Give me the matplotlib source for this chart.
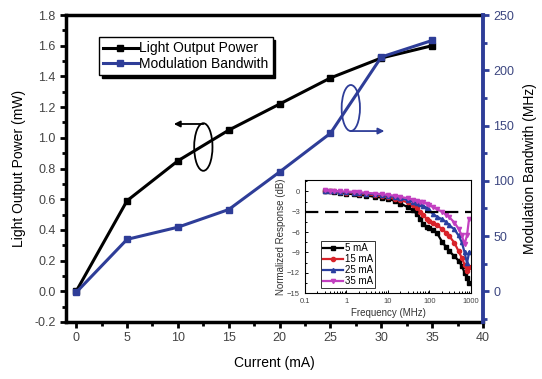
import matplotlib

matplotlib.use("Agg")

import matplotlib.pyplot as plt
from matplotlib.patches import Ellipse
from matplotlib.ticker import MultipleLocator

plt.rcParams["font.family"] = ["Liberation Sans", "DejaVu Sans"]

# main chart data
current = [0, 5, 10, 15, 20, 25, 30, 35]
light_power = [0.0, 0.59, 0.85, 1.05, 1.22, 1.39, 1.52, 1.60]
bandwidth = [-1, 47, 58, 74, 108, 143, 212, 227]

# inset data (frequency response)
freq = [0.3, 0.4, 0.5, 0.7, 1, 1.5, 2, 3, 5, 7, 10, 15, 20, 30, 40, 50, 60,
        70, 85, 100, 120, 150, 200, 250, 300, 400, 500, 600, 700, 800, 900]
resp_5ma = [0.1, 0.0, -0.05, -0.15, -0.3, -0.4, -0.5, -0.6, -0.8, -0.9, -1.1,
            -1.4, -1.8, -2.3, -2.8, -3.3, -4.0, -4.8, -5.3, -5.4, -5.7, -6.1,
            -7.4, -8.2, -8.8, -9.6, -10.2, -11.0, -12.0, -12.8, -13.5]
resp_15ma = [0.1, 0.05, 0.0, -0.05, -0.15, -0.25, -0.3, -0.4, -0.55, -0.7,
             -0.85, -1.1, -1.3, -1.6, -2.0, -2.4, -3.0, -3.5, -4.0, -4.3,
             -4.6, -5.0, -5.5, -6.1, -6.6, -7.6, -8.8, -9.8, -10.8, -11.8,
             -11.2]
resp_25ma = [0.1, 0.05, 0.0, -0.05, -0.1, -0.15, -0.2, -0.3, -0.4, -0.5,
             -0.65, -0.8, -1.0, -1.3, -1.5, -1.7, -1.9, -2.1, -2.4, -2.8,
             -3.3, -3.7, -4.1, -4.5, -5.0, -5.6, -6.5, -7.5, -9.0, -10.6,
             -9.0]
resp_35ma = [0.15, 0.1, 0.05, 0.0, 0.0, -0.05, -0.1, -0.2, -0.3, -0.4, -0.5,
             -0.65, -0.8, -1.0, -1.2, -1.35, -1.5, -1.6, -1.8, -2.0, -2.3,
             -2.6, -3.0, -3.4, -3.8, -4.6, -5.5, -6.5, -7.8, -6.5, -4.0]
inset_labels = ["5 mA", "15 mA", "25 mA", "35 mA"]

blue = "#2e3d98"
tick_gray = "#444444"

fig = plt.figure(figsize=(5.42, 3.79), dpi=100)
ax1 = fig.add_axes([0.1218, 0.1504, 0.7694, 0.81])
ax2 = ax1.twinx()

l1, = ax1.plot(current, light_power, color="black", marker="s", ms=4.5,
               lw=2.2, label="Light Output Power")
l2, = ax2.plot(current, bandwidth, color=blue, marker="s", ms=4.5,
               lw=2.2, label="Modulation Bandwith")

ax1.set_xlim(-1, 40)
ax1.set_ylim(-0.2, 1.8)
ax2.set_ylim(-0.2 / 1.8 * 250, 250)

ax1.xaxis.set_major_locator(MultipleLocator(5))
ax1.xaxis.set_minor_locator(MultipleLocator(2.5))
ax1.yaxis.set_major_locator(MultipleLocator(0.2))
ax1.yaxis.set_minor_locator(MultipleLocator(0.1))
ax1.yaxis.set_major_formatter(matplotlib.ticker.FormatStrFormatter("%.1f"))
ax2.yaxis.set_major_locator(MultipleLocator(50))
ax2.yaxis.set_minor_locator(MultipleLocator(25))

ax1.tick_params(axis="both", which="both", direction="out", width=2,
                labelsize=9, labelcolor=tick_gray, top=False, right=False)
ax1.tick_params(which="major", length=4)
ax1.tick_params(which="minor", length=3)
ax2.tick_params(axis="y", which="both", direction="out", width=2,
                color=blue, labelsize=9, labelcolor="#3c4680")
ax2.tick_params(which="major", length=4)
ax2.tick_params(which="minor", length=3)

for side in ["left", "top", "bottom"]:
    ax1.spines[side].set_linewidth(2.5)
    ax2.spines[side].set_visible(False)
ax1.spines["right"].set_visible(False)
ax2.spines["right"].set_linewidth(2.8)
ax2.spines["right"].set_color(blue)

ax1.set_xlabel("Current (mA)", fontsize=10, labelpad=8)
ax1.set_ylabel("Light Output Power (mW)", fontsize=10, labelpad=6)
ax2.set_ylabel("Modulation Bandwith (MHz)", fontsize=10, labelpad=6)

# ellipses with arrows
ax1.add_patch(Ellipse((12.5, 0.94), 1.8, 0.31, fill=False, ec="black", lw=1.3))
ax1.annotate("", xy=(9.6, 1.09), xytext=(12.5, 1.09),
             arrowprops=dict(arrowstyle="-|>", color="black", lw=1.3,
                             mutation_scale=9, shrinkA=0, shrinkB=0))
ax2.add_patch(Ellipse((27.0, 1.194 / 1.8 * 250), 1.8, 0.30 / 1.8 * 250,
                      fill=False, ec=blue, lw=1.3))
ax2.annotate("", xy=(30.3, 1.044 / 1.8 * 250), xytext=(27.0, 1.044 / 1.8 * 250),
             arrowprops=dict(arrowstyle="-|>", color=blue, lw=1.3,
                             mutation_scale=9, shrinkA=0, shrinkB=0))

leg = ax2.legend(handles=[l1, l2], loc="upper left",
                 bbox_to_anchor=(0.062, 0.95), fontsize=10, frameon=True,
                 fancybox=False, shadow={"color": "black", "alpha": 1},
                 handlelength=2.5, handletextpad=0.1, borderpad=0.3,
                 labelspacing=0.1)
leg.get_frame().set_edgecolor("black")
leg.get_frame().set_linewidth(1.0)

# inset
axi = fig.add_axes([0.5627, 0.2269, 0.3063, 0.2982])
styles = [("black", "s"), ("#d8232a", "o"), ("#2a3fa0", "^"), ("#c23fc0", "v")]
series = [resp_5ma, resp_15ma, resp_25ma, resp_35ma]
for vals, (col, mk), lab in zip(series, styles, inset_labels):
    axi.plot(freq, vals, color=col, marker=mk, ms=3, lw=1.6, label=lab)
axi.axhline(-3, color="black", lw=1.6, ls=(0, (6, 3)))
axi.set_xscale("log")
axi.set_xlim(0.1, 1000)
axi.set_ylim(-15, 1.7)
axi.set_xticks([0.1, 1, 10, 100, 1000])
axi.set_xticklabels(["0.1", "1", "10", "100", "1000"])
axi.yaxis.set_major_locator(MultipleLocator(3))
axi.yaxis.set_minor_locator(MultipleLocator(1.5))
axi.tick_params(which="both", direction="in", labelsize=5.5,
                labelcolor=tick_gray, width=0.7)
axi.tick_params(which="major", length=2.5)
axi.tick_params(which="minor", length=1.5)
for sp in axi.spines.values():
    sp.set_linewidth(0.8)
axi.set_xlabel("Frequency (MHz)", fontsize=7, labelpad=2, color="#333333")
axi.set_ylabel("Normalized Response (dB)", fontsize=7, labelpad=1,
               color="#333333")
ileg = axi.legend(loc="upper left", bbox_to_anchor=(0.07, 0.5), fontsize=7,
                  frameon=True, fancybox=False, handlelength=2.0,
                  handletextpad=0.2, borderpad=0.2, labelspacing=0.1)
ileg.get_frame().set_edgecolor("black")
ileg.get_frame().set_linewidth(0.7)

fig.savefig("out.png", dpi=100)
